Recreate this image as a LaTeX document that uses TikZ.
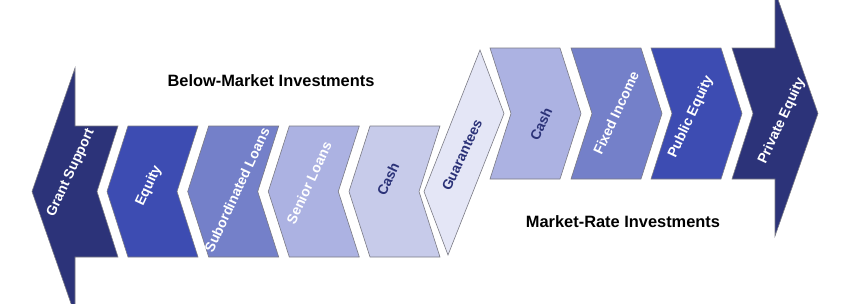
\documentclass[tikz,border=0pt]{standalone}
\usepackage{fontspec}
\setmainfont{Liberation Sans}
\definecolor{cNavy}{HTML}{2C3379}
\definecolor{cEq}{HTML}{3D4CB2}
\definecolor{cSub}{HTML}{7480C9}
\definecolor{cSen}{HTML}{ACB2E2}
\definecolor{cCashL}{HTML}{C7CBEA}
\definecolor{cGua}{HTML}{E4E6F6}
\definecolor{cTxt}{HTML}{2B3278}
\definecolor{cEdge}{HTML}{7A7A84}
\tikzset{
  shp/.style={draw=cEdge, line width=0.6pt, line join=miter},
  lbl/.style={font=\bfseries\fontsize{14}{16}\selectfont, rotate=65, inner sep=0pt},
  ttl/.style={font=\bfseries\fontsize{16.4}{19}\selectfont, text=black, inner sep=0pt},
}
\newcommand{\lchevron}[2]{% left-pointing chevron at x=#1, fill #2
  \path[shp, fill=#2] (#1,126) -- ++(70,0) -- ++(-21,65.5) -- ++(21,65.5) -- ++(-70,0) -- ++(-21,-65.5) -- cycle;}
\newcommand{\rchevron}[2]{% right-pointing chevron at x=#1, fill #2
  \path[shp, fill=#2] (#1,48) -- ++(70,0) -- ++(21,65.5) -- ++(-21,65.5) -- ++(-70,0) -- ++(21,-65.5) -- cycle;}
\begin{document}
\begin{tikzpicture}[x=1pt,y=-1pt]
\useasboundingbox (0,0) rectangle (857,303);
\begin{scope}
\clip (0,0) rectangle (857,303);
% left big arrow
\path[shp, fill=cNavy] (32,191.5) -- (75,68) -- (75,126) -- (118,126) -- (97,191.5) -- (118,257) -- (75,257) -- (75,315) -- cycle;
\lchevron{128}{cEq}
\lchevron{208.7}{cSub}
\lchevron{289.3}{cSen}
\lchevron{370}{cCashL}
% guarantees
\path[shp, fill=cGua] (424,191.5) -- (480,50) -- (504,113.5) -- (448,255) -- cycle;
\rchevron{490}{cSen}
\rchevron{571}{cSub}
\rchevron{651}{cEq}
% right big arrow
\path[shp, fill=cNavy] (732,48) -- (775,48) -- (775,-9) -- (818,113.5) -- (775,236) -- (775,179) -- (732,179) -- (753,113.5) -- cycle;
\end{scope}
% labels
\node[lbl, text=white] (grant) at (71,173) {Grant Support};
\node[lbl, text=white] (equity) at (149,186) {Equity};
\node[lbl, text=white] (subl) at (237,190) {Subordinated Loans};
\node[lbl, text=white] (senl) at (309,183) {Senior Loans};
\node[lbl, text=cTxt] (cashl) at (388,179) {Cash};
\node[lbl, text=cTxt] (guar) at (462,155) {Guarantees};
\node[lbl, text=cTxt] (cashr) at (541,124) {Cash};
\node[lbl, text=white] (fixed) at (616,113) {Fixed Income};
\node[lbl, text=white] (pubeq) at (691,117) {Public Equity};
\node[lbl, text=white] (priveq) at (782,121) {Private Equity};
\node[ttl] (below) at (271,81) {Below-Market Investments};
\node[ttl] (market) at (623,222) {Market-Rate Investments};
\end{tikzpicture}
\end{document}
